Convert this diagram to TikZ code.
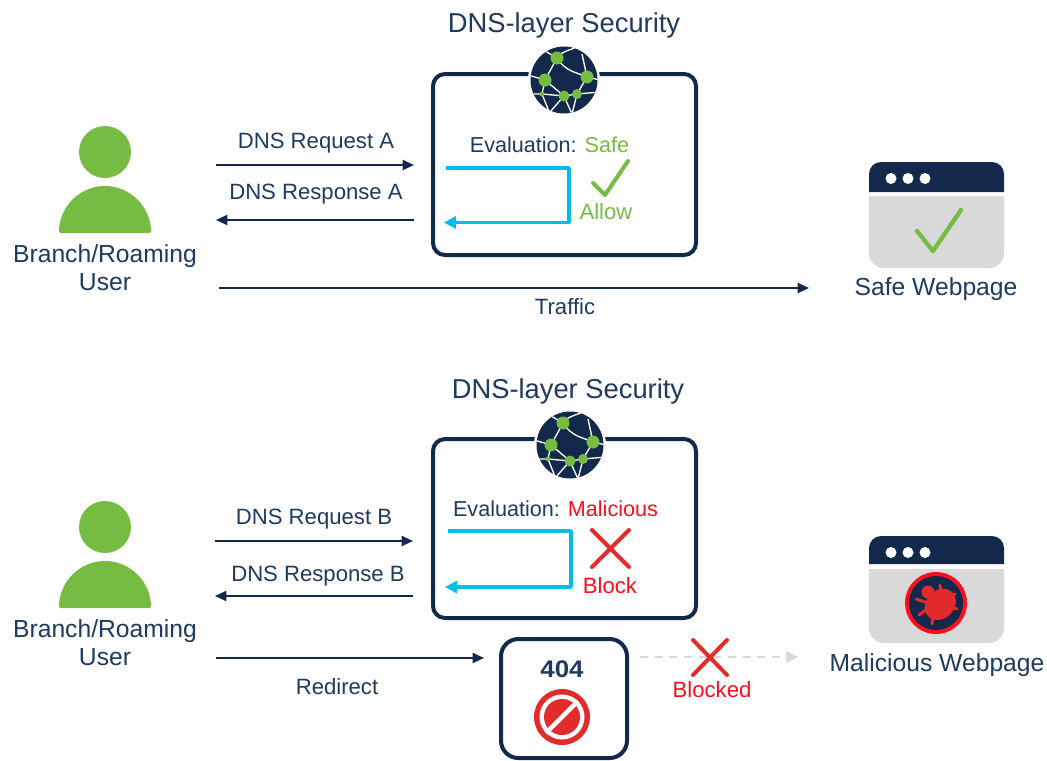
\documentclass[tikz,border=0pt]{standalone}
\usepackage{fontspec}
\setmainfont{Liberation Sans}
\usetikzlibrary{arrows.meta}
\definecolor{navy}{HTML}{13294B}
\definecolor{txt}{HTML}{1F3A5F}
\definecolor{grn}{HTML}{76BC43}
\definecolor{cyanb}{HTML}{00BCEB}
\definecolor{redx}{HTML}{E32B2B}
\definecolor{redt}{HTML}{FB0F1C}
\definecolor{pane}{HTML}{D9D9D9}
\tikzset{
 x=0.75pt,y=-0.75pt,
 lbl/.style={font=\fontsize{16.6}{21}\selectfont,text=txt,inner sep=0pt,align=center},
 evl/.style={font=\fontsize{16.2}{21}\selectfont,text=txt,inner sep=0pt,align=center},
 big/.style={font=\fontsize{18.5}{21}\selectfont,text=txt,inner sep=0pt,align=center},
 title/.style={font=\fontsize{20.5}{24}\selectfont,text=txt,inner sep=0pt},
 flow/.style={draw=navy,line width=1.5pt,-{Triangle[length=8.5pt,width=7.5pt]}},
 loopline/.style={draw=cyanb,line width=2.8pt,-{Triangle[length=9pt,width=9pt]}},
 ghost/.style={draw=pane,line width=1.3pt,dash pattern=on 6pt off 5pt,-{Triangle[length=9pt,width=9pt]}},
 panel/.style={draw=navy,line width=3pt,rounded corners=9pt,fill=white},
 markx/.style={draw=redx,line width=3pt,line cap=round},
 markc/.style={draw=grn,line width=3pt,line cap=round,line join=round},
}
\newcommand{\personicon}[2]{%
 \begin{scope}[shift={(#1,#2)}]
 \fill[grn] (0,0) circle[radius=26];
 \fill[grn,rounded corners=1pt] (-46,81) arc[start angle=180,end angle=360,x radius=46,y radius=47] -- cycle;
 \end{scope}}
\newcommand{\globeicon}[2]{%
 \begin{scope}[shift={(#1,#2)}]
 \fill[white] (0,0) circle[radius=36];
 \fill[navy] (0,0) circle[radius=33.5];
 \begin{scope}
 \clip (0,0) circle[radius=33.5];
 \draw[white,line width=1pt] (-7,-22) -- (-24,-32) (-7,-22) .. controls (-2,-30) and (10,-30) .. (18,-36)
   (-7,-22) .. controls (2,-8) and (12,-8) .. (23,-3) (-7,-22) -- (-19,0) (-19,0) -- (-36,-5)
   (-19,0) -- (0,16) (-19,0) -- (-22,14) (-22,14) -- (-34,14) (-22,14) -- (0,16)
   (23,-3) -- (13,14) (23,-3) -- (36,0) (23,-3) -- (18,-26) (0,16) -- (13,14) (13,14) -- (36,12)
   (0,16) -- (8,34) (0,16) -- (-14,32) (13,14) -- (8,34) (-22,14) -- (-14,34);
 \end{scope}
 \fill[grn] (-7,-22) circle[radius=6.5] (-19,0) circle[radius=6.5] (23,-3) circle[radius=6.5]
   (0,16) circle[radius=5.5] (13,14) circle[radius=5] (-22,14) circle[radius=2.5];
 \end{scope}}
% x, top y, dark bottom, pane top, pane bottom
\newcommand{\browsericon}[5]{%
 \begin{scope}[shift={(#1,#2)}]
 \fill[navy] (0,#3) -- (0,12) arc[start angle=180,end angle=270,radius=12] -- (123,0) arc[start angle=270,end angle=360,radius=12] -- (135,#3) -- cycle;
 \fill[white] (22,16.5) circle[radius=5.5] (39,16.5) circle[radius=5.5] (56,16.5) circle[radius=5.5];
 \pgfmathsetmacro{\panelow}{#5-15}
 \fill[pane] (0,#4) -- (135,#4) -- (135,\panelow) arc[start angle=0,end angle=90,radius=15] -- (15,#5) arc[start angle=90,end angle=180,radius=15] -- cycle;
 \end{scope}}
\begin{document}
\begin{tikzpicture}
\useasboundingbox (0,0) rectangle (1047,761);
\fill[white] (0,0) rectangle (1047,761);

% ---------- upper scenario
\personicon{105}{152}
\personicon{105}{527}
\node[big] (userA) at (105,268) {Branch/Roaming\\User};
\node[big] (userB) at (105,643) {Branch/Roaming\\User};

\node[title] (titleA) at (564,25) {DNS-layer Security};
\draw[panel] (433,74) rectangle (696,255);
\globeicon{564}{80}
\node[evl] (evalA) at (549.5,145) {Evaluation: \textcolor{grn}{Safe}};
\coordinate (a1) at (446,168); \coordinate (a2) at (569,168);
\coordinate (a3) at (569,222.5); \coordinate (a4) at (444,222.5);
\draw[loopline,line join=round] (a1) -- (a2) -- (a3) -- (a4);
\draw[markc] (593,183) -- (605,195) -- (628,161);
\node[lbl,text=grn] (allow) at (606,212) {Allow};

\coordinate (rqa1) at (216,165); \coordinate (rqa2) at (414,165);
\coordinate (rsa1) at (414,220); \coordinate (rsa2) at (216,220);
\coordinate (tr1) at (219,288); \coordinate (tr2) at (809,288);
\draw[flow] (rqa1) -- (rqa2);
\draw[flow] (rsa1) -- (rsa2);
\draw[flow] (tr1) -- (tr2);
\node[lbl] (lrqa) at (316,143) {DNS Request A};
\node[lbl] (lrsa) at (316,194) {DNS Response A};
\node[lbl] (ltr) at (565,307) {Traffic};

\browsericon{869}{162}{30}{34}{106}
\draw[draw=grn,line width=3.2pt,line cap=round,line join=round] (917,231) -- (933,251) -- (961,210);
\node[big] (safe) at (936,289) {Safe Webpage};

% ---------- lower scenario
\node[title] (titleB) at (568,391) {DNS-layer Security};
\draw[panel] (433,439) rectangle (696,618);
\globeicon{570}{445}
\node[evl] (evalB) at (555.5,509) {Evaluation: \textcolor{redt}{Malicious}};
\coordinate (b1) at (448,531); \coordinate (b2) at (571,531);
\coordinate (b3) at (571,587); \coordinate (b4) at (445,587);
\draw[loopline,line join=round] (b1) -- (b2) -- (b3) -- (b4);
\draw[markx] (592,530) -- (629,567) (629,530) -- (592,567);
\node[lbl,text=redt] (block) at (610,586) {Block};

\coordinate (rqb1) at (215,541); \coordinate (rqb2) at (413,541);
\coordinate (rsb1) at (413,596); \coordinate (rsb2) at (215,596);
\coordinate (rd1) at (216,658); \coordinate (rd2) at (484,658);
\draw[flow] (rqb1) -- (rqb2);
\draw[flow] (rsb1) -- (rsb2);
\draw[flow] (rd1) -- (rd2);
\node[lbl] (lrqb) at (314,519) {DNS Request B};
\node[lbl] (lrsb) at (318,576) {DNS Response B};
\node[lbl] (lrd) at (337,687) {Redirect};

\draw[draw=navy,line width=3pt,rounded corners=13pt,fill=white] (501,639) rectangle (627,758);
\node[font=\fontsize{18}{18}\bfseries\selectfont,text=txt,inner sep=0pt,xscale=1.08] (n404) at (562,669) {404};
\fill[redx] (562,717) circle[radius=28];
\fill[white] (562,717) circle[radius=22.5];
\fill[redx] (562,717) circle[radius=18];
\draw[white,line width=3.2pt] (546,733) -- (578,701);

\coordinate (g1) at (640,657); \coordinate (g2) at (798,657);
\draw[ghost] (g1) -- (g2);
\draw[markx] (693,640) -- (727,675) (727,640) -- (693,675);
\node[lbl,text=redt] (blocked) at (712,690) {Blocked};

\browsericon{869}{536}{28}{33}{107}
\fill[redt] (936,603) circle[radius=31];
\fill[navy] (936,603) circle[radius=27];
\begin{scope}[shift={(936,603)}]
 \draw[redx,line width=2.2pt,line cap=round]
   (4,-18) -- (5,-10) (19,-9) -- (10,-4) (21,6) -- (12,3)
   (-4,21) -- (-3,14) (-17,12) -- (-9,6) (-20,-4) -- (-11,-1);
 \fill[redx,rotate=45] (2,4) ellipse[x radius=17,y radius=14];
 \fill[redx] (-8,-11) circle[radius=6.5];
\end{scope}
\node[big] (mal) at (937,665) {Malicious Webpage};
\end{tikzpicture}
\end{document}
